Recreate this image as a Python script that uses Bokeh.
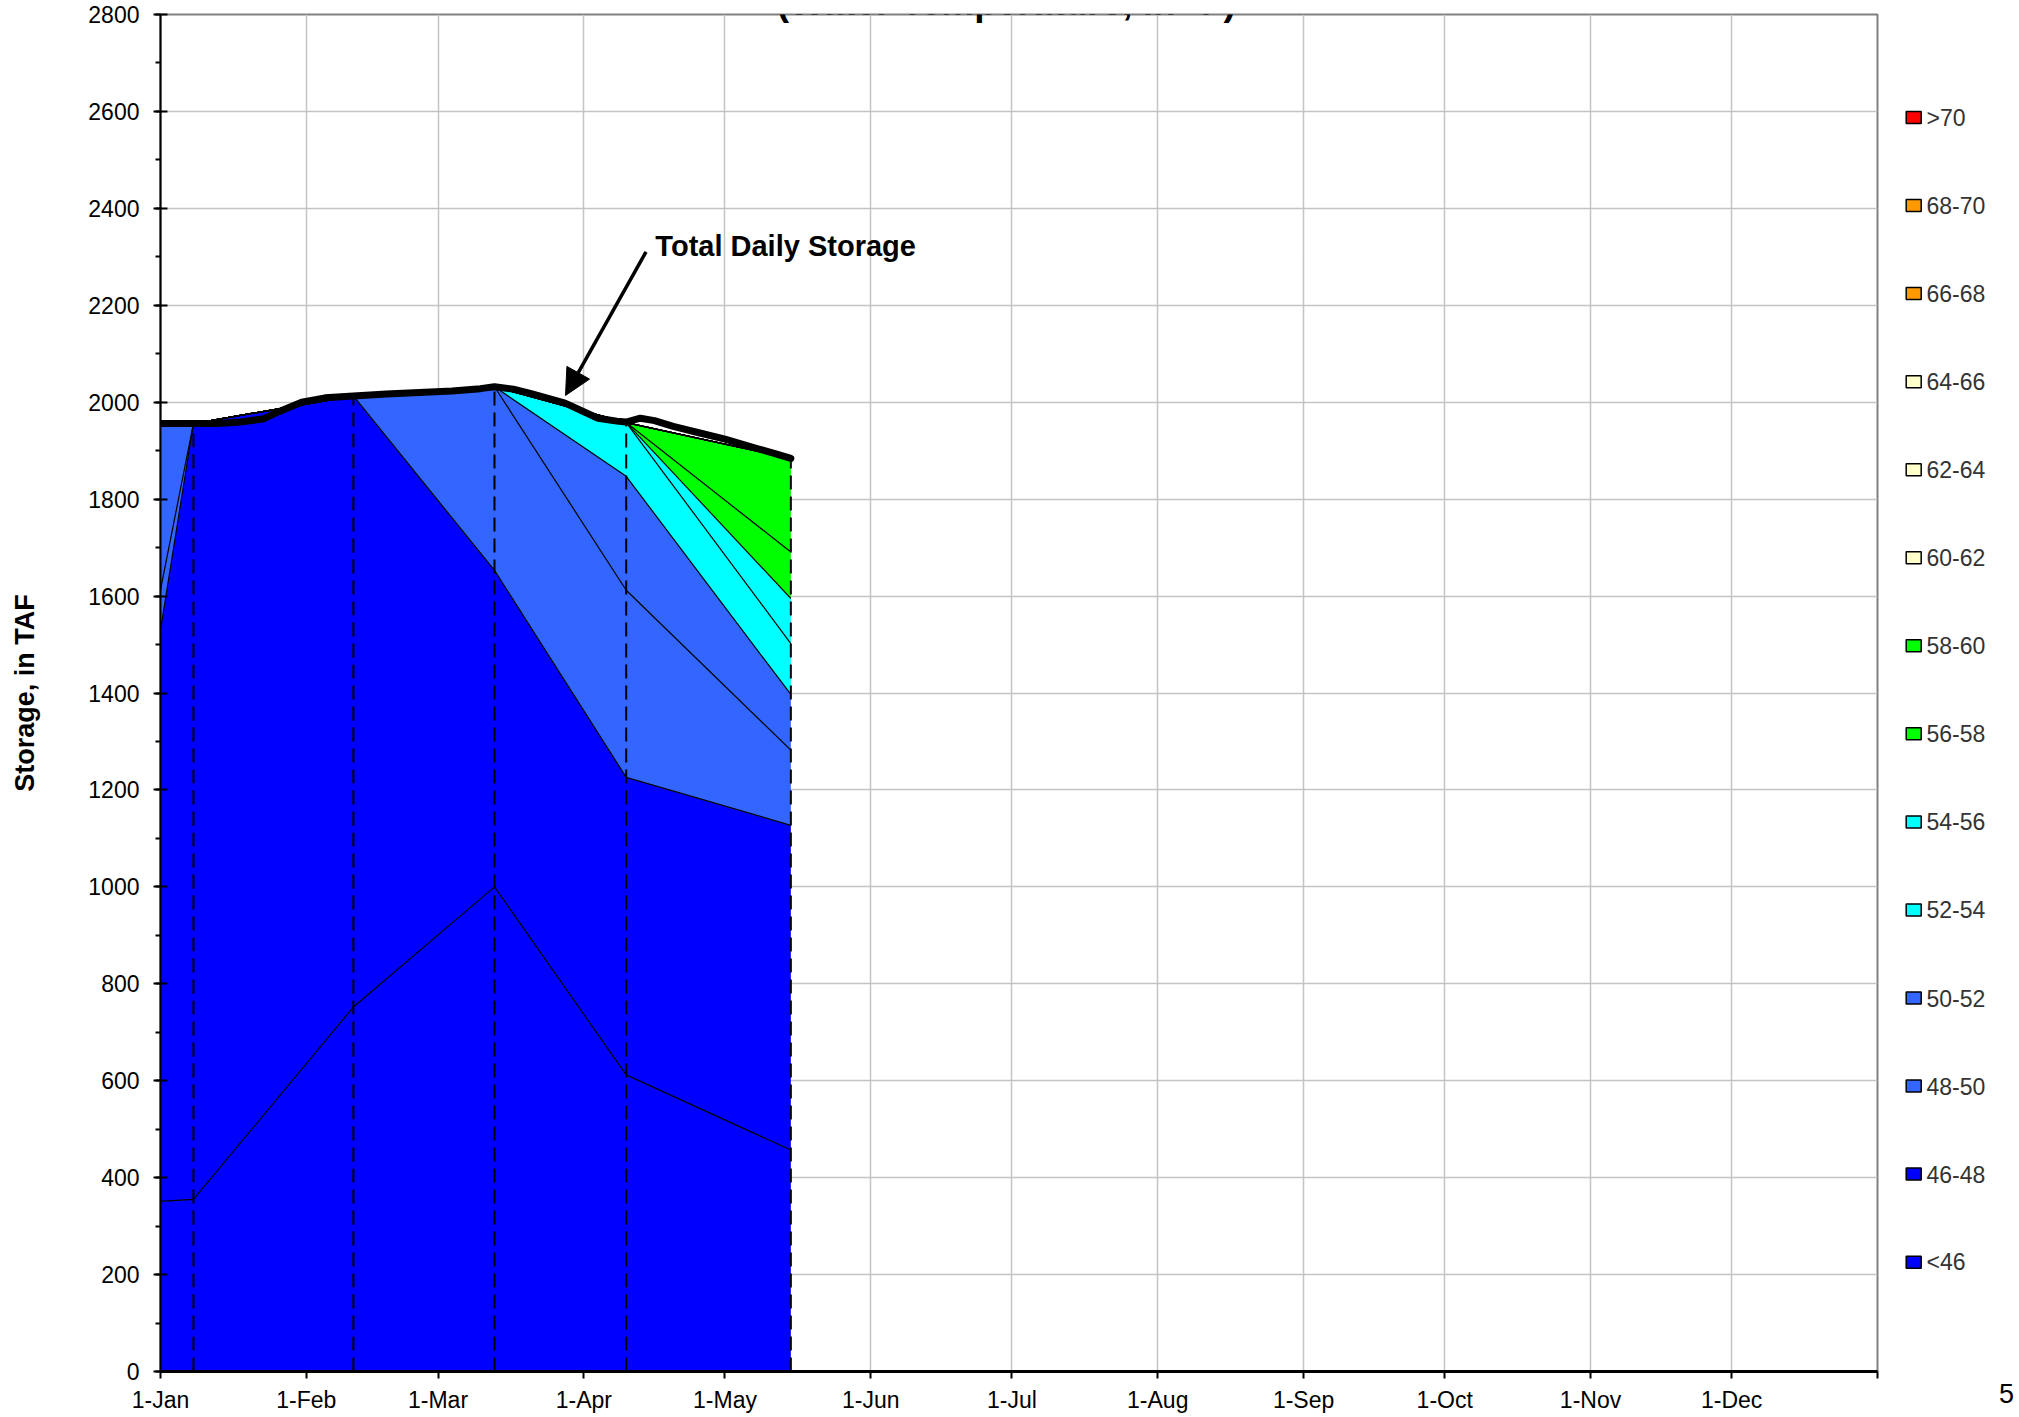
import pandas as pd
from bokeh.plotting import figure
from bokeh.layouts import row
from bokeh.models import (Range1d, FixedTicker, SingleIntervalTicker, Label,
                          Arrow, NormalHead)
from bokeh.core.properties import value
from bokeh.embed import file_html
from bokeh.resources import INLINE

YEAR = 2009

# ---- axis categories -------------------------------------------------------
month_starts = ["01-01", "02-01", "03-01", "04-01", "05-01", "06-01",
                "07-01", "08-01", "09-01", "10-01", "11-01", "12-01"]
month_labels = ["1-Jan", "1-Feb", "1-Mar", "1-Apr", "1-May", "1-Jun",
                "1-Jul", "1-Aug", "1-Sep", "1-Oct", "1-Nov", "1-Dec"]

# ---- temperature profile dates and storage per band (TAF) ------------------
profile_dates = ["01-01", "01-08", "02-11", "03-13", "04-10", "05-15"]

band_names = ["<46", "46-48", "48-50", "50-52", "52-54", "54-56", "56-58",
              "58-60", "60-62", "62-64", "64-66", "66-68", "68-70", ">70"]
band_colors = ["#0000FF", "#0000FF", "#3366FF", "#3366FF", "#00FFFF", "#00FFFF",
               "#00FF00", "#00FF00", "#FFFFCC", "#FFFFCC", "#FFFFCC", "#FF9900",
               "#FF9900", "#FF0000"]

s_lt46 = [351, 355, 752, 1000, 612, 457]
s_46_48 = [1179, 1601, 1261, 653, 614, 670]
s_48_50 = [83, 0, 0, 379, 386, 155]
s_50_52 = [343, 0, 0, 0, 235, 115]
s_52_54 = [0, 0, 0, 0, 111, 105]
s_54_56 = [0, 0, 0, 0, 0, 93]
s_56_58 = [0, 0, 0, 0, 0, 96]
s_58_60 = [0, 0, 0, 0, 0, 193]
s_60_62 = [0, 0, 0, 0, 0, 0]
s_62_64 = [0, 0, 0, 0, 0, 0]
s_64_66 = [0, 0, 0, 0, 0, 0]
s_66_68 = [0, 0, 0, 0, 0, 0]
s_68_70 = [0, 0, 0, 0, 0, 0]
s_gt70 = [0, 0, 0, 0, 0, 0]

# ---- total daily storage (TAF) ---------------------------------------------
total_dates = ["01-01", "01-08", "01-13", "01-18", "01-23", "01-26", "01-31",
               "02-05", "02-11", "02-18", "02-25", "03-04", "03-10", "03-13",
               "03-17", "03-21", "03-28", "04-04", "04-08", "04-10", "04-13",
               "04-16", "04-20", "04-25", "05-01", "05-08", "05-12", "05-15"]
total_storage = [1956, 1956, 1956, 1959, 1966, 1980, 2000,
                 2009, 2013, 2017, 2020, 2023, 2028, 2032,
                 2027, 2017, 1998, 1967, 1961, 1959, 1967,
                 1962, 1950, 1938, 1924, 1904, 1893, 1884]

page_number = "5"
title_text = "(Water Temperature, in °F)"
y_title = "Storage, in TAF"
callout_text = "Total Daily Storage"


def doy(md):
    return pd.Timestamp(f"{YEAR}-{md}").dayofyear - 1


band_series = [s_lt46, s_46_48, s_48_50, s_50_52, s_52_54, s_54_56, s_56_58,
               s_58_60, s_60_62, s_62_64, s_64_66, s_66_68, s_68_70, s_gt70]

pdays = [doy(d) for d in profile_dates]
tdays = [doy(d) for d in total_dates]
mdays = [doy(d) for d in month_starts]
year_end = doy("12-31") + 1

FONT = "Liberation Sans"
TOP, BOTTOM = 14, 46
H = 1417
MAIN_W = 1879
LEG_W = 140

# ============================ main chart ====================================
p = figure(width=MAIN_W, height=H, output_backend="svg", toolbar_location=None,
           x_range=Range1d(0, year_end), y_range=Range1d(0, 2800),
           min_border_left=160, min_border_right=2, min_border_top=TOP,
           min_border_bottom=BOTTOM)
p.background_fill_color = "white"
p.border_fill_color = "white"
p.outline_line_color = "#808080"
p.outline_line_width = 2

# grid
p.xgrid.ticker = FixedTicker(ticks=mdays + [year_end])
p.ygrid.ticker = SingleIntervalTicker(interval=200)
for g in (p.xgrid[0], p.ygrid[0]):
    g.grid_line_color = "#c4c4c4"
    g.grid_line_width = 1.5

# x axis
xa = p.xaxis[0]
xa.ticker = FixedTicker(ticks=mdays + [year_end])
ov = {d: lab for d, lab in zip(mdays, month_labels)}
ov[year_end] = ""
xa.major_label_overrides = ov
xa.axis_line_width = 3
xa.axis_line_color = "black"
xa.major_tick_line_width = 2
xa.major_tick_in = 0
xa.major_tick_out = 7
xa.minor_tick_line_color = None
xa.major_label_standoff = 8
xa.major_label_text_font = FONT
xa.major_label_text_font_size = "23px"
xa.major_label_text_color = "black"

# y axis
ya = p.yaxis[0]
ya.ticker = SingleIntervalTicker(interval=200, num_minor_ticks=2)
ya.axis_line_width = 2
ya.axis_line_color = "black"
ya.major_tick_line_width = 2
ya.major_tick_in = 7
ya.major_tick_out = 7
ya.minor_tick_line_width = 2
ya.minor_tick_in = 0
ya.minor_tick_out = 5
ya.major_label_standoff = 14
ya.major_label_text_font = FONT
ya.major_label_text_font_size = "23px"
ya.major_label_text_color = "black"
ya.axis_label = y_title
ya.axis_label_text_font = FONT
ya.axis_label_text_font_size = "27px"
ya.axis_label_text_font_style = "bold"
ya.axis_label_text_color = "black"
ya.axis_label_standoff = 45

# stacked bands
bottom = [0] * len(pdays)
tops = []
for vals, col in zip(band_series, band_colors):
    top = [b + v for b, v in zip(bottom, vals)]
    p.varea(x=pdays, y1=bottom, y2=top, fill_color=col, fill_alpha=1.0)
    tops.append(top)
    bottom = top

for top in tops:
    p.line(pdays, top, line_color="black", line_width=1.2)

# dashed profile-date lines
profile_total = tops[-1]
p.segment(x0=pdays[1:], y0=[0] * (len(pdays) - 1), x1=pdays[1:], y1=profile_total[1:],
          line_color="black", line_width=2, line_dash="14 7")

# total daily storage
p.line(tdays, total_storage, line_color="black", line_width=7,
       line_join="round", line_cap="round")

# annotations
p.add_layout(Label(x=105.2, y=2322, text=callout_text,
                   text_font=FONT, text_font_size="29px", text_font_style="bold",
                   text_color="black", text_baseline="middle"))
p.add_layout(Arrow(end=NormalHead(size=26, fill_color="black", line_color="black"),
                   x_start=103.2, y_start=2310, x_end=86.1, y_end=2014,
                   line_width=3.5, line_color="black"))
p.add_layout(Label(x=179.8, y=2824, text=title_text,
                   text_font=FONT, text_font_size="37px", text_font_style="bold",
                   text_color="black", text_align="center", text_baseline="middle"))

# ============================ legend panel ==================================
lg = figure(width=LEG_W, height=H, output_backend="svg", toolbar_location=None,
            x_range=Range1d(0, LEG_W), y_range=Range1d(H - BOTTOM, TOP),
            x_axis_location="below", y_axis_location=None,
            min_border_left=0, min_border_right=0, min_border_top=TOP,
            min_border_bottom=BOTTOM)
lg.outline_line_color = None
lg.grid.visible = False
lg.background_fill_color = "white"
lg.border_fill_color = "white"

# page number shown as the single label of an invisible bottom axis
PAGE_X = 127
la = lg.xaxis[0]
la.ticker = FixedTicker(ticks=[PAGE_X])
la.major_label_overrides = {PAGE_X: page_number}
la.axis_line_color = None
la.major_tick_line_color = None
la.minor_tick_line_color = None
la.major_tick_out = 0
la.major_tick_in = 0
la.major_label_standoff = 12
la.major_label_text_font = FONT
la.major_label_text_font_size = "27px"
la.major_label_text_color = "black"

leg_names = list(reversed(band_names))
leg_colors = list(reversed(band_colors))
row_y = [117 + 88.05 * i for i in range(len(leg_names))]
lg.rect(x=[34.2] * len(leg_names), y=row_y, width=15, height=12,
        fill_color=leg_colors, line_color="black", line_width=1.5)
lg.text(x=[47] * len(leg_names), y=row_y, text=leg_names,
        text_font=value(FONT), text_font_size="23px", text_color="#333333",
        text_baseline="middle", text_align="left")

layout = row(p, lg)
open("out.html", "w").write(file_html(layout, INLINE))
